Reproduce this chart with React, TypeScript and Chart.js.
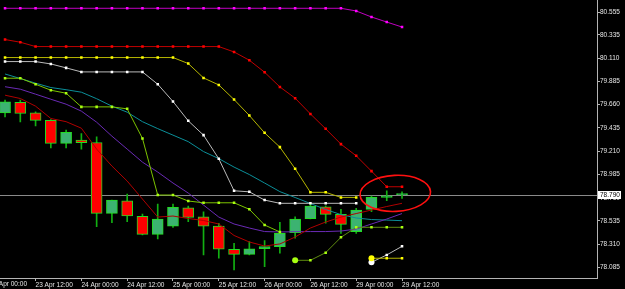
import React, { useEffect, useRef } from "react";
import { Chart, registerables } from "chart.js";

Chart.register(...registerables);

// ---- Candles (H4), index 0 = 23 Apr 04:00 ----
const OPEN = [79.580, 79.681, 79.580, 79.507, 79.285, 79.317, 79.294, 78.609, 78.731, 78.580, 78.406, 78.486, 78.663, 78.576, 78.486, 78.262, 78.213, 78.267, 78.287, 78.422, 78.557, 78.673, 78.599, 78.431, 78.648, 78.764, 78.790];
const HIGH = [79.703, 79.703, 79.590, 79.516, 79.413, 79.381, 79.348, 78.737, 78.795, 78.602, 78.699, 78.699, 78.680, 78.624, 78.513, 78.319, 78.335, 78.345, 78.522, 78.576, 78.715, 78.682, 78.648, 78.657, 78.776, 78.827, 78.818];
const LOW = [79.542, 79.493, 79.455, 79.242, 79.242, 79.230, 78.480, 78.518, 78.528, 78.400, 78.361, 78.474, 78.528, 78.207, 78.175, 78.062, 78.207, 78.094, 78.223, 78.368, 78.554, 78.513, 78.416, 78.416, 78.624, 78.731, 78.754];
const CLOSE = [79.686, 79.574, 79.507, 79.285, 79.391, 79.291, 78.609, 78.737, 78.583, 78.406, 78.554, 78.667, 78.570, 78.486, 78.262, 78.213, 78.267, 78.287, 78.416, 78.554, 78.680, 78.599, 78.503, 78.641, 78.764, 78.779, 78.790];

// ---- Indicator lines ----
const MAGENTA = [80.591, 80.591, 80.591, 80.591, 80.591, 80.591, 80.591, 80.591, 80.591, 80.591, 80.591, 80.591, 80.591, 80.591, 80.591, 80.591, 80.591, 80.591, 80.591, 80.591, 80.591, 80.591, 80.591, 80.565, 80.507, 80.458, 80.410];
const RED_DOTS = [80.289, 80.263, 80.221, 80.221, 80.221, 80.221, 80.221, 80.221, 80.221, 80.221, 80.221, 80.221, 80.221, 80.221, 80.221, 80.169, 80.089, 79.973, 79.831, 79.722, 79.570, 79.426, 79.278, 79.165, 79.017, 78.866, 78.866];
const YELLOW_UP = [80.115, 80.115, 80.115, 80.115, 80.115, 80.115, 80.115, 80.115, 80.115, 80.115, 80.115, 80.115, 80.057, 79.918, 79.850, 79.709, 79.555, 79.387, 79.249, 79.040, 78.812, 78.812, 78.763, 78.763, null, null, null];
const YELLOW_DN = [null, null, null, null, null, null, null, null, null, null, null, null, null, null, null, null, null, null, null, null, null, null, null, null, 78.175, 78.175, 78.175];
const WHITE_UP = [80.076, 80.076, 80.076, 80.053, 80.015, 79.976, 79.976, 79.976, 79.976, 79.976, 79.857, 79.690, 79.503, 79.365, 79.136, 78.827, 78.817, 78.737, 78.706, 78.706, 78.706, 78.706, 78.706, 78.706, null, null, null];
const WHITE_DN = [null, null, null, null, null, null, null, null, null, null, null, null, null, null, null, null, null, null, null, null, null, null, null, null, 78.136, 78.207, 78.290];
const LIME_UP = [79.915, 79.915, 79.857, 79.799, 79.770, 79.638, 79.638, 79.638, 79.619, 79.333, 78.786, 78.786, 78.728, 78.711, 78.711, 78.711, 78.648, 78.496, 78.429, null, null, null, null, null, null, null, null];
const LIME_DN = [null, null, null, null, null, null, null, null, null, null, null, null, null, null, null, null, null, null, null, 78.155, 78.155, 78.229, 78.377, 78.474, 78.474, 78.474, 78.474];
const TEAL = [79.956, 79.912, 79.867, 79.825, 79.804, 79.780, 79.717, 79.645, 79.587, 79.495, 79.428, 79.365, 79.302, 79.206, 79.138, 79.056, 78.984, 78.902, 78.819, 78.762, 78.704, 78.646, 78.597, 78.564, 78.549, 78.544, 78.538];
const PURPLE = [79.833, 79.809, 79.761, 79.712, 79.664, 79.597, 79.490, 79.355, 79.230, 79.104, 79.008, 78.902, 78.805, 78.689, 78.573, 78.506, 78.467, 78.433, 78.429, 78.431, 78.433, 78.433, 78.438, 78.457, 78.506, 78.554, 78.607];
const MA_RED = [79.751, 79.719, 79.645, 79.526, 79.495, 79.432, 79.230, 79.066, 78.921, 78.747, 78.573, 78.583, 78.559, 78.540, 78.506, 78.395, 78.332, 78.293, 78.313, 78.380, 78.467, 78.525, 78.573, 78.607, 78.641, 78.675, 78.706];

// ---- Axes ----
const Y_TICKS = [80.555, 80.335, 80.110, 79.885, 79.660, 79.435, 79.210, 78.985, 78.760, 78.535, 78.310, 78.085];
const X_TICK_POS = [-1, 2, 5, 8, 11, 14, 17, 20, 23, 26];
const X_TICK_LABELS = ["23 Apr 00:00", "23 Apr 12:00", "24 Apr 00:00", "24 Apr 12:00", "25 Apr 00:00", "25 Apr 12:00", "26 Apr 00:00", "26 Apr 12:00", "29 Apr 00:00", "29 Apr 12:00"];
const BID = 78.79;
const X_MIN = -0.33;
const X_MAX = 38.77;
const Y_MIN = 77.984;
const Y_MAX = 80.668;

// hand-drawn ellipse annotation (data units)
const MARK_X = 25.56;
const MARK_Y = 78.802;
const MARK_RX = 2.31;
const MARK_RY = 0.174;

const FONT = "'Liberation Sans', Arial, sans-serif";
const TEXT = "#e6e6e6";
const AXIS = "#b4b4b4";
const BULL = "#3cb371";
const BEAR = "#ff0000";
const EDGE = "#22dd22";
const WICK = "#12b012";

export default function App() {
  const ref = useRef<HTMLCanvasElement>(null);

  useEffect(() => {
    document.body.style.margin = "0";
    document.body.style.background = "#000";
    const canvas = ref.current;
    if (!canvas) return;

    const pts = (arr: (number | null)[]) => arr.map((v, i) => ({ x: i, y: v }));
    const firstIdx = (arr: (number | null)[]) => arr.findIndex((v) => v !== null);

    const dotted = (data: (number | null)[], line: string, dot: string, bigStart = false, order = 5) => {
      const f = firstIdx(data);
      return {
        type: "line" as const,
        data: pts(data),
        borderColor: line,
        borderWidth: 1,
        pointBackgroundColor: dot,
        pointBorderWidth: 0,
        pointStyle: data.map((_, i) => (bigStart && i === f ? "circle" : "rect")),
        pointRadius: data.map((_, i) => (bigStart && i === f ? 3 : 1.8)),
        tension: 0,
        spanGaps: false,
        order,
      };
    };
    const plain = (data: number[], color: string, order = 8) => ({
      type: "line" as const,
      data: pts(data),
      borderColor: color,
      borderWidth: 1,
      pointRadius: 0,
      tension: 0,
      order,
    });

    const inRange = X_TICK_POS.map((v, i) => ({ v, i })).filter((t) => t.v >= X_MIN);
    const outRange = X_TICK_POS.map((v, i) => ({ v, i })).filter((t) => t.v < X_MIN);

    const overlay = {
      id: "overlay",
      beforeDraw(chart: any) {
        const { ctx, width, height } = chart;
        ctx.save();
        ctx.fillStyle = "#000";
        ctx.fillRect(0, 0, width, height);
        ctx.restore();
      },
      beforeDatasetsDraw(chart: any) {
        const { ctx, chartArea, scales } = chart;
        const y = Math.round(scales.y.getPixelForValue(BID)) + 0.5;
        ctx.save();
        ctx.strokeStyle = "#8a8a8a";
        ctx.lineWidth = 1;
        ctx.beginPath();
        ctx.moveTo(chartArea.left, y);
        ctx.lineTo(chartArea.right, y);
        ctx.stroke();
        ctx.restore();
      },
      afterDraw(chart: any) {
        const { ctx, chartArea, scales, width } = chart;
        const xs = scales.x;
        const ys = scales.y;
        // time label(s) whose tick lies left of the visible range (partly cut off)
        ctx.save();
        ctx.fillStyle = TEXT;
        ctx.font = `6.5px ${FONT}`;
        ctx.textBaseline = "top";
        ctx.textAlign = "left";
        outRange.forEach((t) => {
          ctx.fillText(X_TICK_LABELS[t.i], xs.getPixelForValue(t.v), xs.top + 3);
        });
        ctx.restore();
        // ellipse annotation
        const cx = xs.getPixelForValue(MARK_X);
        const cy = ys.getPixelForValue(MARK_Y);
        const rx = Math.abs(xs.getPixelForValue(MARK_X + MARK_RX) - cx);
        const ry = Math.abs(ys.getPixelForValue(MARK_Y + MARK_RY) - cy);
        ctx.save();
        ctx.strokeStyle = "#ff1010";
        ctx.lineWidth = 1.6;
        ctx.beginPath();
        ctx.ellipse(cx, cy, rx, ry, -0.05, 0, Math.PI * 2);
        ctx.stroke();
        ctx.restore();
        // bid label
        const by = ys.getPixelForValue(BID);
        ctx.save();
        ctx.fillStyle = "#ffffff";
        ctx.fillRect(chartArea.right + 1, Math.round(by) - 4, width - chartArea.right - 5, 8);
        ctx.fillStyle = "#000";
        ctx.font = `6.5px ${FONT}`;
        ctx.textBaseline = "middle";
        ctx.textAlign = "left";
        ctx.fillText(BID.toFixed(3), chartArea.right + 3, Math.round(by));
        ctx.restore();
      },
    };

    const chart = new Chart(canvas, {
      type: "bar",
      data: {
        datasets: [
          plain(MA_RED, "#b00000", 9),
          plain(PURPLE, "#6a2ab5", 9),
          plain(TEAL, "#0b8f99", 9),
          dotted(MAGENTA, "#c000c0", "#ff00ff"),
          dotted(RED_DOTS, "#c00000", "#ff0000"),
          dotted(YELLOW_UP, "#b5b500", "#ffff00"),
          dotted(YELLOW_DN, "#b5b500", "#ffff00", true),
          dotted(WHITE_UP, "#bbbbbb", "#ffffff"),
          dotted(WHITE_DN, "#bbbbbb", "#ffffff", true),
          dotted(LIME_UP, "#7cc400", "#a8ff10"),
          dotted(LIME_DN, "#5f8c10", "#a8ff10", true),
          {
            type: "bar" as const,
            data: LOW.map((l, i) => ({ x: i, y: [l, HIGH[i]] })),
            backgroundColor: WICK,
            borderWidth: 0,
            barThickness: 1,
            grouped: false,
            order: 20,
          },
          {
            type: "bar" as const,
            data: OPEN.map((o, i) => ({ x: i, y: [o, CLOSE[i]] })),
            backgroundColor: OPEN.map((o, i) => (CLOSE[i] >= o ? BULL : BEAR)),
            borderColor: EDGE,
            borderWidth: 1,
            borderSkipped: false,
            barThickness: 11,
            minBarLength: 1,
            grouped: false,
            order: 19,
          },
        ] as any,
      },
      options: {
        responsive: false,
        devicePixelRatio: 1,
        animation: false,
        events: [],
        layout: { padding: 0, autoPadding: false },
        plugins: { legend: { display: false }, tooltip: { enabled: false } },
        scales: {
          x: {
            type: "linear",
            position: "bottom",
            min: X_MIN,
            max: X_MAX,
            offset: false,
            bounds: "data",
            grid: { display: true, drawOnChartArea: false, drawTicks: true, tickLength: 3, color: AXIS, offset: false },
            border: { display: true, color: AXIS, width: 1 },
            afterBuildTicks: (scale: any) => {
              scale.ticks = inRange.map((t) => ({ value: t.v }));
            },
            afterFit: (scale: any) => {
              scale.height = 11;
            },
            ticks: {
              autoSkip: false,
              maxRotation: 0,
              minRotation: 0,
              align: "start",
              padding: 0,
              color: TEXT,
              font: { family: FONT, size: 6.5 },
              callback: (_v: any, i: number) => X_TICK_LABELS[inRange[i].i],
            },
          },
          y: {
            type: "linear",
            position: "right",
            min: Y_MIN,
            max: Y_MAX,
            bounds: "data",
            grid: { display: true, drawOnChartArea: false, drawTicks: true, tickLength: 3, color: AXIS },
            border: { display: true, color: AXIS, width: 1 },
            afterBuildTicks: (scale: any) => {
              scale.ticks = Y_TICKS.map((v) => ({ value: v }));
            },
            afterFit: (scale: any) => {
              scale.width = 28;
            },
            ticks: {
              autoSkip: false,
              padding: 0,
              color: TEXT,
              font: { family: FONT, size: 6.5, lineHeight: 0.1 },
              callback: (v: any) => Number(v).toFixed(3),
            },
          },
        },
      } as any,
      plugins: [overlay],
    });

    return () => chart.destroy();
  }, []);

  return <canvas ref={ref} width={625} height={289} style={{ display: "block", width: 625, height: 289 }} />;
}
